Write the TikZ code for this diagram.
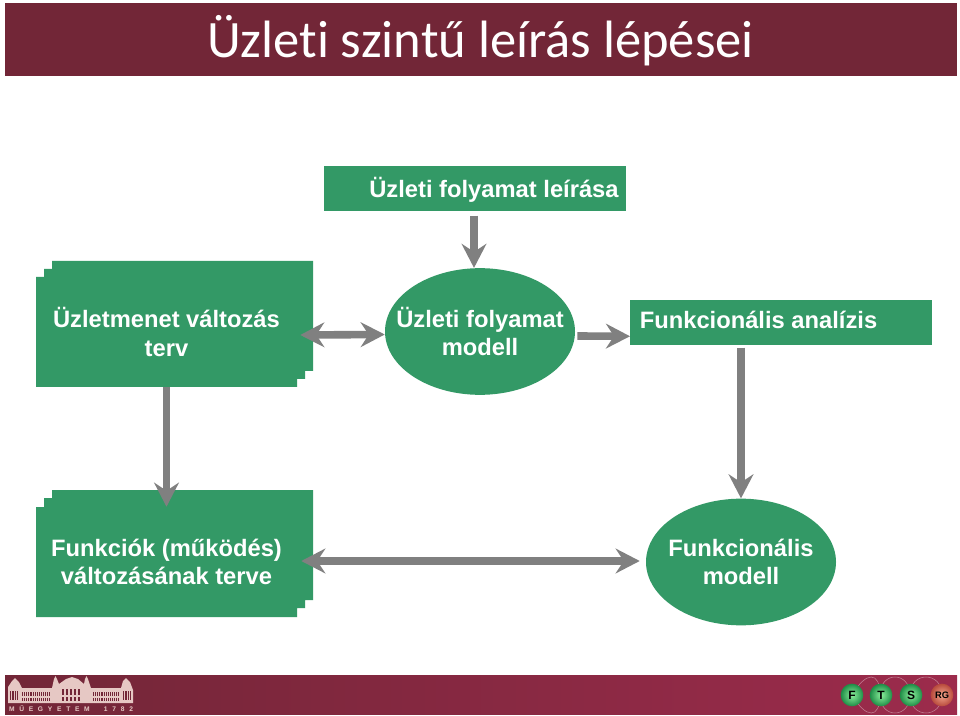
\documentclass[tikz,border=0pt]{standalone}
\usepackage{fontspec}
\setmainfont{Liberation Sans}
\newfontfamily\titlefont[Ligatures=NoCommon]{Carlito}
\usetikzlibrary{arrows.meta,shapes.geometric,calc,shadings}
\definecolor{bannerred}{HTML}{722637}
\definecolor{bannerlight}{HTML}{9C2B4C}
\definecolor{boxgreen}{HTML}{339966}
\definecolor{flowgray}{HTML}{808080}
\definecolor{logocream}{HTML}{E6C8C4}
\definecolor{ballgreen}{HTML}{8CF09C}
\definecolor{ballrim}{HTML}{1E8C46}
\definecolor{ballred}{HTML}{F4A68C}
\definecolor{ballredrim}{HTML}{B84A3C}
\tikzset{
  x=0.75pt,y=-0.75pt,
  lbl/.style={text=white,font=\bfseries\fontsize{17.8}{21.2}\selectfont,align=center,inner sep=0pt},
  greenbox/.style={fill=boxgreen,draw=none,anchor=north west,minimum height=33.75pt,inner sep=0pt},
  frontbox/.style={fill=boxgreen,lbl,minimum width=195.75pt,minimum height=82.5pt},
  stacked/.style={fill=boxgreen,draw=none},
  oval/.style={ellipse,fill=boxgreen,inner sep=0pt,minimum width=142.5pt,minimum height=95pt},
  flow/.style={draw=flowgray,line width=5.7pt,-{Stealth[length=18pt,width=18.5pt,inset=6pt]}},
  biflow/.style={draw=flowgray,line width=5.7pt,{Stealth[length=18pt,width=18.5pt,inset=6pt]}-{Stealth[length=18pt,width=18.5pt,inset=6pt]}},
  fts/.style={circle,minimum size=17pt,inner sep=0pt,font=\bfseries\fontsize{9}{9}\selectfont,text=black,inner color=ballgreen,outer color=ballrim},
  rgball/.style={fts,inner color=ballred,outer color=ballredrim,font=\bfseries\fontsize{7}{7}\selectfont},
}
\begin{document}
\begin{tikzpicture}
\useasboundingbox (0,0) rectangle (960,716);
\fill[white] (0,0) rectangle (960,716);
% banners
\fill[bannerred] (5,3) rectangle (957,76);
\node[text=white,font=\titlefont\fontsize{39.4}{44}\selectfont,inner sep=0pt] (title) at (480.5,41) {Üzleti szintű leírás lépései};
\shade[left color=bannerred,right color=bannerlight] (5,675) rectangle (957,714);
% boxes: the stepped back layers
\fill[stacked] (52,261) -- (313,261) -- (313,371) -- (305,371) -- (305,379) -- (297,379) -- (297,387) -- (36,387) -- (36,277) -- (44,277) -- (44,269) -- (52,269) -- cycle;
\fill[stacked] (52,490) -- (313,490) -- (313,600) -- (305,600) -- (305,608) -- (297,608) -- (297,617) -- (36,617) -- (36,507) -- (44,507) -- (44,498) -- (52,498) -- cycle;
\node[frontbox] (change) at (166.5,332) {Üzletmenet változás\\terv};
\node[frontbox] (funcplan) at (166.5,562) {Funkciók (működés)\\változásának terve};
\node[greenbox,minimum width=226.5pt] (desc) at (324,166) {};
\node[lbl] (desctext) at (494,190) {Üzleti folyamat leírása};
\node[greenbox,minimum width=226.5pt] (analysis) at (630,300) {};
\node[lbl] (analysistext) at (758.5,320) {Funkcionális analízis};
\node[oval] (process) at (480,331.5) {};
\node[lbl] (processtext) at (process.center) {Üzleti folyamat\\modell};
\node[oval] (funcmodel) at (741,562) {};
\node[lbl] (funcmodeltext) at (funcmodel.center) {Funkcionális\\modell};
% connectors
\draw[flow] ($(desc.south -| process.north)+(-6,4)$) -- ($(process.north)+(-6,0)$);
\draw[biflow] ($(change.east)+(3,3)$) -- ($(process.west)+(0,3)$);
\draw[flow] ($(process.east)+(2,4.5)$) -- ($(analysis.west)+(0,13.5)$);
\draw[flow] ($(analysis.south -| funcmodel.north)+(0,2)$) -- (funcmodel.north);
\draw[flow] (change.south) -- (funcplan.north);
\draw[biflow] ($(funcplan.east)+(4,-1)$) -- ($(funcmodel.west)+(-6,-1)$);
% university logo
\begin{scope}[logocream]
\fill (8,687) -- (12,681) -- (15,678) -- (19,682) -- (22,688) -- (52,688) -- (54,679) -- (55.5,676) -- (57,679) -- (59,684) -- (66,679) -- (72,677) -- (78,679) -- (84,684) -- (85,679) -- (86.5,676) -- (88,679) -- (91,688) -- (121,688) -- (123,681) -- (126,678) -- (130,682) -- (133,690) -- (133,703) -- (8,703) -- cycle;
\foreach \i in {0,...,13} {\fill[bannerred] (22+\i*2.1,692) rectangle ++(1.1,3.5);\fill[bannerred] (22+\i*2.1,697.5) rectangle ++(1.1,3.5);}
\foreach \i in {0,...,12} {\fill[bannerred] (93+\i*2.1,692) rectangle ++(1.1,3.5);\fill[bannerred] (93+\i*2.1,697.5) rectangle ++(1.1,3.5);}
\foreach \i in {0,...,4} {\fill[bannerred] (62+\i*4,689) rectangle ++(2.2,6);\fill[bannerred] (62+\i*4,697) rectangle ++(2.2,4);}
\foreach \i in {0,...,3} {\fill[bannerred] (10+\i*2.4,691) rectangle ++(1.2,9);\fill[bannerred] (123+\i*2.4,691) rectangle ++(1.2,9);}
\node[text=logocream,font=\bfseries\fontsize{5}{5}\selectfont,inner sep=0pt] (muegyetem) at (71,708.5) {\makebox[93pt][s]{M\hfill Ű\hfill E\hfill G\hfill Y\hfill E\hfill T\hfill E\hfill M\hfill\hfill\hfill 1\hfill 7\hfill 8\hfill 2}};
\end{scope}
% group logo
\draw[bannerlight!60!white,line width=0.4pt] (852,695) .. controls (866,671) and (880,671) .. (880,695) (852,695) .. controls (866,719) and (880,719) .. (880,695)
 (880,695) .. controls (880,671) and (910,671) .. (910,695) (880,695) .. controls (880,719) and (910,719) .. (910,695)
 (910,695) .. controls (910,671) and (942,671) .. (942,695) (910,695) .. controls (910,719) and (942,719) .. (942,695);
\node[fts] (f) at (852,695) {F};
\node[fts] (t) at (881,695) {T};
\node[fts] (s) at (911,695) {S};
\node[rgball] (rg) at (942,695) {RG};
\end{tikzpicture}
\end{document}
